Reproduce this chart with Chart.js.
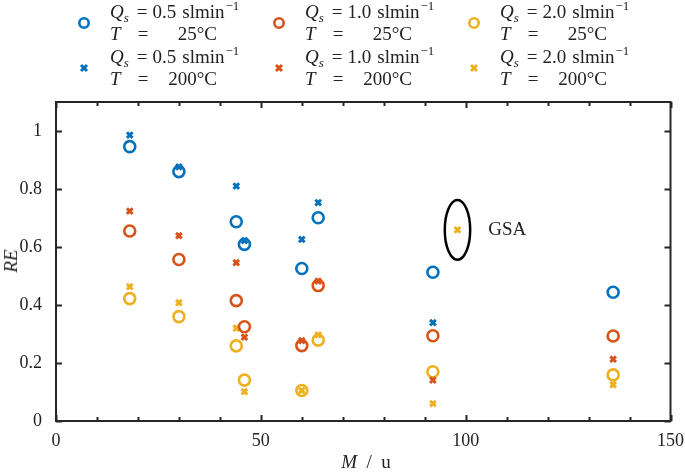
<!DOCTYPE html>
<html>
<head>
<meta charset="utf-8">
<script src="https://cdn.jsdelivr.net/npm/chart.js@4.4.1/dist/chart.umd.min.js"></script>
<style>
  body { margin: 0; background: #fff; }
  #wrap { position: relative; width: 685px; height: 474px; font-family: "Liberation Serif", "DejaVu Serif", serif; color: #222; }
  canvas { position: absolute; left: 0; top: 0; }
  .entry { position: absolute; width: 190px; height: 44px; }
  .entry svg { position: absolute; }
  .l1, .l2 { position: absolute; left: 0; height: 22px; line-height: 22px; font-size: 19px; white-space: nowrap; }
  .l1 sub, .l1 sup { font-size: 13px; line-height: 0; }
  .l1 sub { vertical-align: -4px; }
  .l1 sup { vertical-align: 8px; margin-left: 1px; }
  .l1 .eq { margin: 0 5px 0 8px; }
  .l1 .u { margin-left: 6px; }
  .l2 .eq { position: absolute; left: 26px; width: 14px; text-align: center; }
  .l2 .val { position: absolute; left: 0; width: 107px; text-align: right; }
  .ylab { position: absolute; left: 11px; top: 261px; transform: translate(-50%, -50%) rotate(-90deg); font-size: 19px; font-style: italic; white-space: nowrap; }
  .xlab { position: absolute; left: 366px; top: 462px; transform: translate(-50%, -50%); font-size: 19px; white-space: nowrap; }
</style>
</head>
<body>
<div id="wrap">
  <canvas id="chart" width="685" height="474"></canvas>
  <div id="legend"></div>
  <div class="ylab">RE</div>
  <div class="xlab"><i>M</i>&nbsp;&nbsp;/&nbsp;&nbsp;u</div>
</div>
<script>
// molecular mass of the test substances
const mass = [18, 30, 44, 46, 60, 64, 92, 136];

// RE for each sample flow / temperature
const re_05_25  = [0.946, 0.860, 0.687, 0.609, 0.526, 0.701, 0.513, 0.444];
const re_05_200 = [0.986, 0.876, 0.810, 0.622, 0.626, 0.753, 0.339, null];
const re_10_25  = [0.655, 0.557, 0.415, 0.325, 0.260, 0.467, 0.294, 0.293];
const re_10_200 = [0.724, 0.639, 0.546, 0.289, 0.277, 0.482, 0.141, 0.213];
const re_20_25  = [0.422, 0.360, 0.259, 0.141, 0.105, 0.279, 0.170, 0.159];
const re_20_200 = [0.463, 0.408, 0.320, 0.101, 0.105, 0.297, 0.060, 0.125];

// GSA point
const gsaMass = [98];
const gsaRE = [0.659];

const flows = ['0.5', '1.0', '2.0'];
const temps = ['25', '200'];
const colors = ['#0072BD', '#D95319', '#EDB120'];

const xTicks = [0, 50, 100, 150];
const yTicks = [0, 0.2, 0.4, 0.6, 0.8, 1];

const series = [
    [re_05_25, re_05_200],
    [re_10_25, re_10_200],
    [re_20_25, re_20_200]
];

function toPoints(xs, ys) {
    return xs.map((x, i) => ({ x, y: ys[i] })).filter(p => p.y !== null);
}

const datasets = [];
series.forEach((s, i) => {
    datasets.push({
        label: `Qs=${flows[i]} T=25`,
        data: toPoints(mass, s[0]),
        pointStyle: 'circle',
        pointRadius: 5.5,
        pointBorderWidth: 2.6,
        borderColor: colors[i],
        backgroundColor: 'rgba(0,0,0,0)'
    });
    datasets.push({
        label: `Qs=${flows[i]} T=200`,
        data: toPoints(mass, s[1]),
        pointStyle: 'crossRot',
        pointRadius: 4,
        pointBorderWidth: 3,
        borderColor: colors[i],
        backgroundColor: colors[i]
    });
});
datasets.push({
    label: 'GSA',
    data: toPoints(gsaMass, gsaRE),
    pointStyle: 'crossRot',
    pointRadius: 4,
    pointBorderWidth: 3,
    borderColor: colors[2],
    backgroundColor: colors[2]
});

// box, inward ticks, GSA ellipse
const boxPlugin = {
    id: 'box',
    afterDatasetsDraw(chart) {
        const { ctx, chartArea: a, scales: { x, y } } = chart;
        ctx.save();
        ctx.strokeStyle = '#262626';
        ctx.lineWidth = 2;
        ctx.strokeRect(a.left, a.top, a.right - a.left, a.bottom - a.top);

        x.ticks.forEach(t => {
            const px = Math.round(x.getPixelForValue(t.value)) + 0.5;
            const len = xTicks.includes(t.value) ? 6 : 4;
            ctx.beginPath();
            ctx.moveTo(px, a.bottom); ctx.lineTo(px, a.bottom - len);
            ctx.moveTo(px, a.top); ctx.lineTo(px, a.top + len);
            ctx.stroke();
        });
        yTicks.forEach(v => {
            const py = Math.round(y.getPixelForValue(v)) + 0.5;
            ctx.beginPath();
            ctx.moveTo(a.left, py); ctx.lineTo(a.left + 6, py);
            ctx.moveTo(a.right, py); ctx.lineTo(a.right - 6, py);
            ctx.stroke();
        });

        // ellipse round the GSA point
        const cx = x.getPixelForValue(gsaMass[0]);
        const cy = y.getPixelForValue(gsaRE[0]);
        const rx = x.getPixelForValue(gsaMass[0] + 3.1) - cx;
        const ry = cy - y.getPixelForValue(gsaRE[0] + 0.103);
        ctx.strokeStyle = '#000';
        ctx.lineWidth = 2.5;
        ctx.beginPath();
        ctx.ellipse(cx, cy, rx, ry, 0, 0, Math.PI * 2);
        ctx.stroke();

        ctx.fillStyle = '#222';
        ctx.font = '19px "Liberation Serif"';
        ctx.textBaseline = 'middle';
        ctx.textAlign = 'left';
        ctx.fillText('GSA', x.getPixelForValue(105.5), cy);
        ctx.restore();
    }
};

const tickFont = { family: '"Liberation Serif"', size: 18 };

new Chart(document.getElementById('chart').getContext('2d'), {
    type: 'scatter',
    data: { datasets },
    options: {
        responsive: false,
        animation: false,
        devicePixelRatio: 1,
        layout: { padding: { top: 102, right: 4, left: 0, bottom: 0 } },
        plugins: { legend: { display: false }, tooltip: { enabled: false } },
        scales: {
            x: {
                type: 'linear', min: 0, max: 150,
                afterFit(s) { s.height = 53; },
                grid: { display: false },
                border: { display: false },
                ticks: {
                    stepSize: 10, autoSkip: false, maxRotation: 0, padding: 1,
                    color: '#222', font: tickFont,
                    callback: v => xTicks.includes(v) ? String(v) : ''
                }
            },
            y: {
                type: 'linear', min: 0, max: 1.1,
                afterFit(s) { s.width = 56; },
                afterBuildTicks(s) { s.ticks = yTicks.map(v => ({ value: v })); },
                grid: { display: false },
                border: { display: false },
                ticks: {
                    padding: 6, color: '#222', font: tickFont,
                    callback: v => String(v)
                }
            }
        }
    },
    plugins: [boxPlugin]
});

// legend (3 columns x 2 rows)
const legend = document.getElementById('legend');
const colText = [110, 305, 500];
const rowTop = [1, 46];
flows.forEach((q, i) => {
    temps.forEach((t, j) => {
        const e = document.createElement('div');
        e.className = 'entry';
        e.style.left = colText[i] + 'px';
        e.style.top = rowTop[j] + 'px';
        const mark = j === 0
            ? `<circle cx="7" cy="7" r="4.7" fill="none" stroke="${colors[i]}" stroke-width="2.6"/>`
            : `<path d="M4 4L10 10M10 4L4 10" stroke="${colors[i]}" stroke-width="3"/>`;
        e.innerHTML =
            `<svg width="14" height="14" style="left:-33px;top:15px">${mark}</svg>` +
            `<div class="l1" style="top:0"><i>Q</i><sub><i>s</i></sub><span class="eq">=</span>${q}<span class="u">slmin</span><sup>\u22121</sup></div>` +
            `<div class="l2" style="top:22px"><i>T</i><span class="eq">=</span><span class="val">${t}\u00B0C</span></div>`;
        legend.appendChild(e);
    });
});
</script>
</body>
</html>
